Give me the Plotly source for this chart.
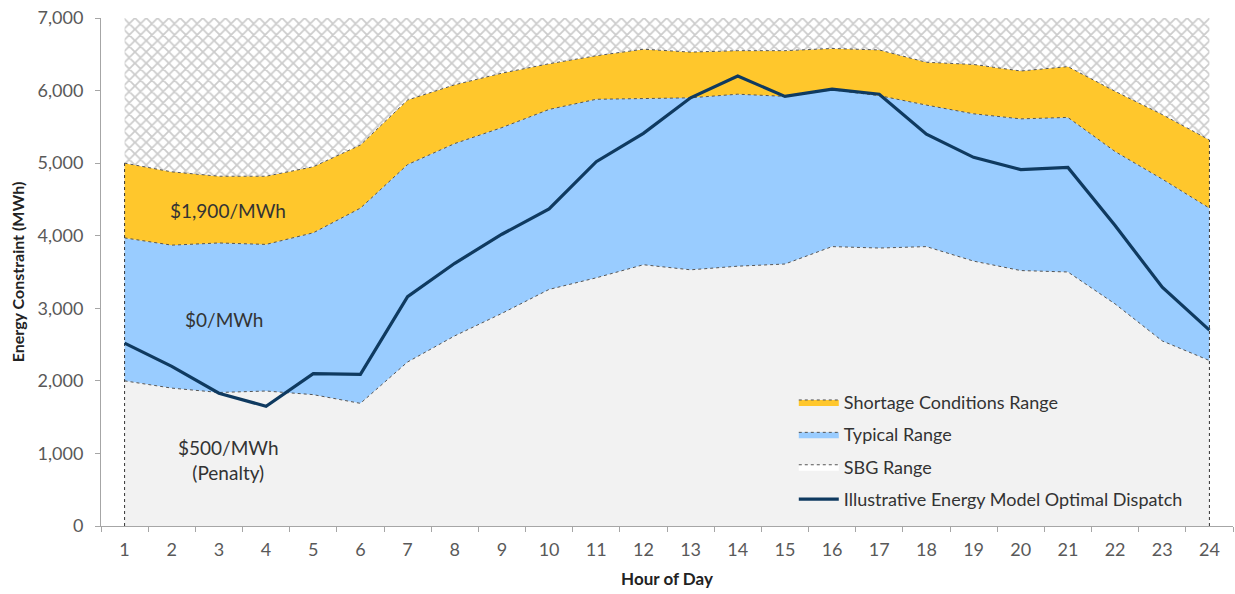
import plotly.graph_objects as go

hours = [str(h) for h in range(1, 25)]

penalty_top = [2000, 1900, 1840, 1860, 1810, 1690, 2260, 2620, 2930, 3260, 3420, 3600,
               3530, 3580, 3610, 3850, 3830, 3850, 3650, 3520, 3500, 3060, 2550, 2280]
typical_top = [3970, 3870, 3900, 3880, 4040, 4380, 4980, 5270, 5490, 5740, 5880, 5890,
               5900, 5950, 5920, 6010, 5930, 5800, 5680, 5610, 5630, 5160, 4780, 4380]
shortage_top = [5000, 4880, 4820, 4820, 4950, 5250, 5870, 6080, 6240, 6370, 6480, 6570,
                6530, 6550, 6550, 6580, 6560, 6390, 6360, 6270, 6330, 5990, 5670, 5320]
sbg_top = [7000] * 24
dispatch = [2520, 2200, 1830, 1650, 2100, 2090, 3160, 3620, 4020, 4370, 5020, 5410,
            5900, 6200, 5920, 6020, 5950, 5400, 5080, 4910, 4940, 4140, 3290, 2700]

y_ticks = [0, 1000, 2000, 3000, 4000, 5000, 6000, 7000]
y_tick_labels = ["0", "1,000", "2,000", "3,000", "4,000", "5,000", "6,000", "7,000"]

names = ["Shortage Conditions Range", "Typical Range", "SBG Range",
         "Illustrative Energy Model Optimal Dispatch"]

FONT = "Lato"
edge = dict(color="#555555", width=1, dash="dot")

fig = go.Figure()

fig.add_trace(go.Scatter(x=hours, y=penalty_top, mode="lines", fill="tozeroy",
                         fillcolor="#F2F2F2", line=edge, showlegend=False,
                         hoverinfo="skip"))
fig.add_trace(go.Scatter(x=hours, y=typical_top, mode="lines", fill="tonexty",
                         fillcolor="#99CCFF", line=edge, name=names[1],
                         legendrank=2, legendgroup="b"))
fig.add_trace(go.Scatter(x=hours, y=shortage_top, mode="lines", fill="tonexty",
                         fillcolor="#FFC72C", line=edge, name=names[0],
                         legendrank=1, legendgroup="a"))
fig.add_trace(go.Scatter(x=hours, y=sbg_top, mode="lines", fill="tonexty",
                         fillcolor="white",
                         fillpattern=dict(shape="x", fgcolor="#9A9A9A", bgcolor="white",
                                          size=8, solidity=0.4),
                         line=dict(width=0), showlegend=False, hoverinfo="skip"))
# dummy legend entry for SBG range
fig.add_trace(go.Scatter(x=[None], y=[None], mode="lines", fill="toself",
                         fillcolor="white", line=edge, name=names[2],
                         legendrank=3, legendgroup="c"))
# vertical edges of the areas
fig.add_trace(go.Scatter(x=[hours[0], hours[0]], y=[0, shortage_top[0]], mode="lines",
                         line=dict(color="#333333", width=1, dash="dot"),
                         showlegend=False, hoverinfo="skip"))
fig.add_trace(go.Scatter(x=[hours[-1], hours[-1]], y=[0, shortage_top[-1]], mode="lines",
                         line=dict(color="#333333", width=1, dash="dot"),
                         showlegend=False, hoverinfo="skip"))
fig.add_trace(go.Scatter(x=hours, y=dispatch, mode="lines",
                         line=dict(color="#0F3A60", width=3.2), name=names[3],
                         legendrank=4, legendgroup="d"))

ann_font = dict(family=FONT, size=19, color="#333333")
fig.add_annotation(x=2.2, y=4350, text="$1,900/MWh", showarrow=False, font=ann_font)
fig.add_annotation(x=2.1, y=2840, text="$0/MWh", showarrow=False, font=ann_font)
fig.add_annotation(x=2.2, y=910, text="$500/MWh<br>(Penalty)", showarrow=False,
                   font=ann_font)

fig.update_layout(
    width=1235, height=594,
    margin=dict(l=101, r=2, t=18, b=68),
    paper_bgcolor="white", plot_bgcolor="white",
    font=dict(family=FONT, size=16, color="#595959"),
    legend=dict(x=0.612, y=0.28, xanchor="left", yanchor="top",
                bgcolor="rgba(0,0,0,0)", traceorder="grouped", tracegroupgap=6,
                itemwidth=40, font=dict(family=FONT, size=18, color="#333333")),
    xaxis=dict(type="category", range=[-0.5, 23.5], tickson="boundaries",
               ticks="outside", ticklen=5, tickcolor="#A6A6A6",
               showline=True, linecolor="#A6A6A6", linewidth=1, showgrid=False,
               zeroline=False, tickfont=dict(size=18, color="#595959"),
               ticklabelstandoff=7,
               title=dict(text="<b>Hour of Day</b>", standoff=14,
                          font=dict(size=17, color="#222222"))),
    yaxis=dict(range=[0, 7000], tickvals=y_ticks, ticktext=y_tick_labels,
               ticks="outside", ticklen=5, tickcolor="#A6A6A6",
               showline=True, linecolor="#A6A6A6", linewidth=1, showgrid=False,
               zeroline=False, tickfont=dict(size=18, color="#595959"),
               ticklabelstandoff=8,
               title=dict(text="<b>Energy Constraint (MWh)</b>", standoff=8,
                          font=dict(size=16, color="#222222"))),
)

fig.write_html("out.html", config={"displayModeBar": False},
               post_script="document.body.style.margin='0';")
